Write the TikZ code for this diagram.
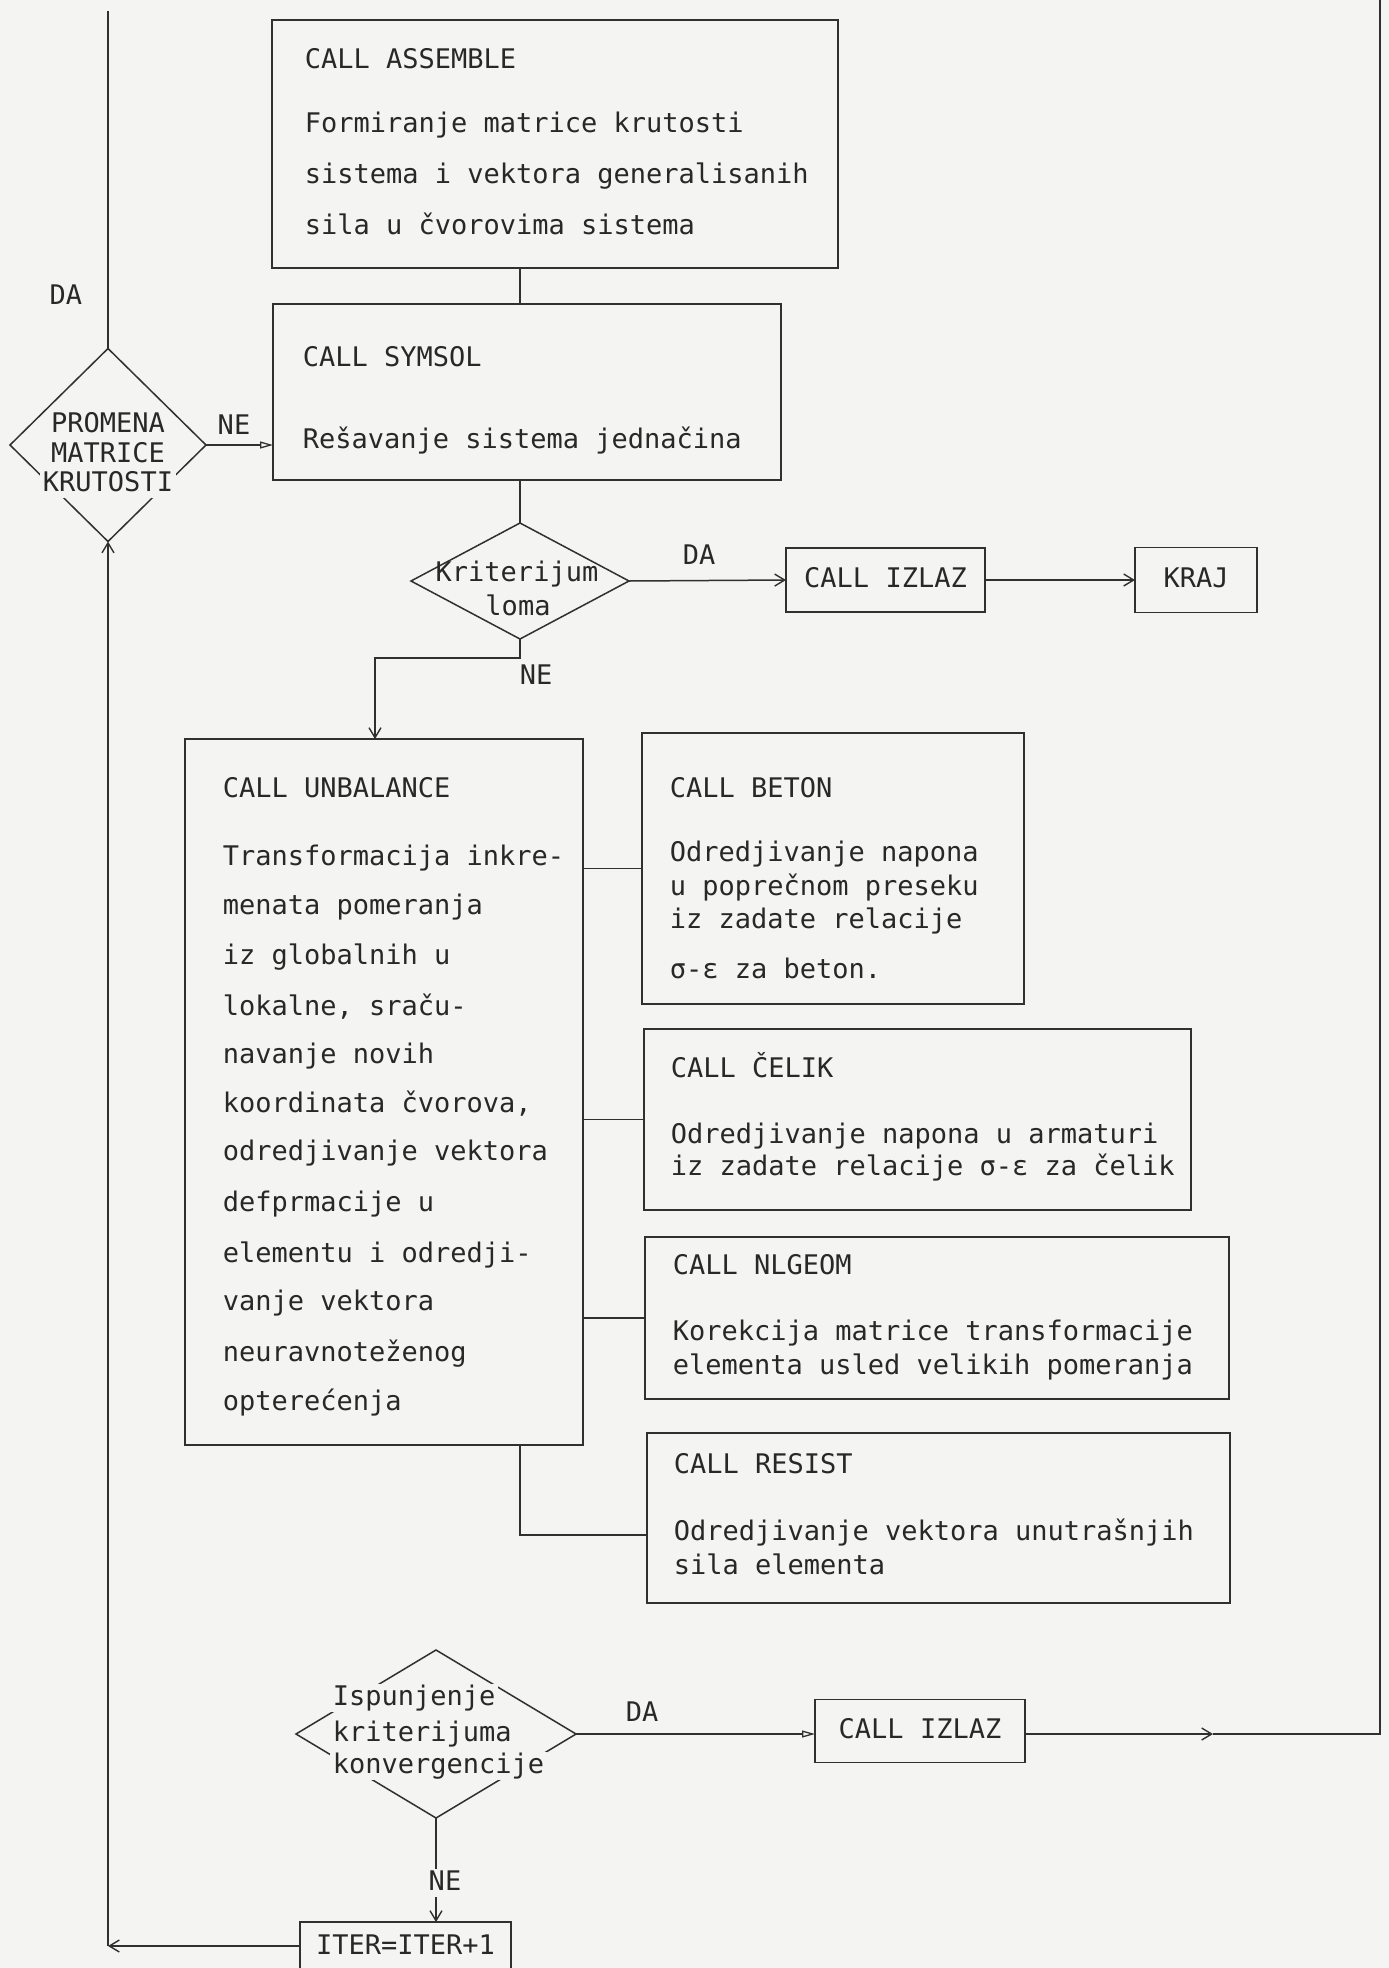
\documentclass[tikz,border=0pt]{standalone}
\usepackage{fontspec}
\newfontfamily\tw{DejaVu Sans Mono}
\usetikzlibrary{shapes.geometric,arrows.meta}
\definecolor{paper}{RGB}{244,244,243}
\definecolor{ink}{RGB}{48,48,48}
\definecolor{type}{RGB}{40,40,40}

\begin{document}
\begin{tikzpicture}[x=1pt,y=-1pt,color=ink,line width=1.5pt,
  box/.style={draw,rectangle,inner sep=0pt,outer sep=0pt,line width=1.6pt},
  dia/.style={draw,diamond,inner sep=0pt,outer sep=0pt,line width=1.5pt},
  txt/.style={anchor=west,inner sep=0pt,text=type,
    font={\tw\fontsize{27}{30}\selectfont},text height=20pt,text depth=6pt},
  ctxt/.style={txt,anchor=center},
  cut/.style={ctxt,fill=paper,inner xsep=3pt,inner ysep=1pt},
  lbl/.style={ctxt},
  barb/.style={-{Straight Barb[length=10pt,width=12pt,line width=1.4pt]}},
  hollow/.style={-{Triangle[open,length=13pt,width=7pt,line width=1.3pt]}}]

\clip (0,0) rectangle (1389,1968);
\fill[paper] (0,0) rectangle (1389,1968);

% ---- process boxes ----
\node[box,minimum width=566pt,minimum height=248pt] (assemble) at (555,144) {};
\node[box,minimum width=508pt,minimum height=176pt] (symsol) at (527,392) {};
\node[box,minimum width=199pt,minimum height=64pt] (izlazA) at (885.5,580) {};
\node[box,minimum width=122pt,minimum height=65pt] (kraj) at (1196,580) {};
\node[box,minimum width=398pt,minimum height=706pt] (unbalance) at (384,1092) {};
\node[box,minimum width=382pt,minimum height=271pt] (beton) at (833,868.5) {};
\node[box,minimum width=547pt,minimum height=181pt] (celik) at (917.5,1119.5) {};
\node[box,minimum width=584pt,minimum height=162pt] (nlgeom) at (937,1318) {};
\node[box,minimum width=583pt,minimum height=170pt] (resist) at (938.5,1518) {};
\node[box,minimum width=210pt,minimum height=63pt] (izlazB) at (920,1731) {};
\node[box,minimum width=211pt,minimum height=54pt] (iter) at (405.5,1949) {};

% ---- decisions ----
\node[dia,minimum width=196pt,minimum height=193pt] (promena) at (108,445) {};
\node[dia,minimum width=218pt,minimum height=116pt] (loma) at (520,581) {};
\node[dia,minimum width=280pt,minimum height=168pt] (isp) at (436,1734) {};

% ---- texts ----
\node[txt] (asT1) at (304,61) {CALL ASSEMBLE};
\node[txt] (asT2) at (304,125) {Formiranje matrice krutosti};
\node[txt] (asT3) at (304,176) {sistema i vektora generalisanih};
\node[txt] (asT4) at (304,227) {sila u čvorovima sistema};

\node[txt] (syT1) at (302,359) {CALL SYMSOL};
\node[txt] (syT2) at (302,441) {Rešavanje sistema jednačina};

\node[cut] (prT1) at (108,425) {PROMENA};
\node[cut] (prT2) at (108,455) {MATRICE};
\node[cut] (prT3) at (108,484) {KRUTOSTI};

\node[ctxt] (loT1) at (517,574) {Kriterijum};
\node[ctxt] (loT2) at (518,608) {loma};

\node[ctxt] (izAT) at (izlazA) {CALL IZLAZ};
\node[ctxt] (krT) at (kraj) {KRAJ};

\node[txt] (unT1) at (222,790) {CALL UNBALANCE};
\node[txt] (unT2) at (222,858) {Transformacija inkre-};
\node[txt] (unT3) at (222,907) {menata pomeranja};
\node[txt] (unT4) at (222,957) {iz globalnih u};
\node[txt] (unT5) at (222,1008) {lokalne, sraču-};
\node[txt] (unT6) at (222,1056) {navanje novih};
\node[txt] (unT7) at (222,1105) {koordinata čvorova,};
\node[txt] (unT8) at (222,1153) {odredjivanje vektora};
\node[txt] (unT9) at (222,1204) {defprmacije u};
\node[txt] (unT10) at (222,1255) {elementu i odredji-};
\node[txt] (unT11) at (222,1303) {vanje vektora};
\node[txt] (unT12) at (222,1354) {neuravnoteženog};
\node[txt] (unT13) at (222,1403) {opterećenja};

\node[txt] (beT1) at (669,790) {CALL BETON};
\node[txt] (beT2) at (669,854) {Odredjivanje napona};
\node[txt] (beT3) at (669,888) {u poprečnom preseku};
\node[txt] (beT4) at (669,921) {iz zadate relacije};
\node[txt] (beT5) at (669,971) {σ-ε za beton.};

\node[txt] (ceT1) at (670,1070) {CALL ČELIK};
\node[txt] (ceT2) at (670,1136) {Odredjivanje napona u armaturi};
\node[txt] (ceT3) at (670,1168) {iz zadate relacije σ-ε za čelik};

\node[txt] (nlT1) at (672,1267) {CALL NLGEOM};
\node[txt] (nlT2) at (672,1333) {Korekcija matrice transformacije};
\node[txt] (nlT3) at (672,1367) {elementa usled velikih pomeranja};

\node[txt] (reT1) at (673,1466) {CALL RESIST};
\node[txt] (reT2) at (673,1533) {Odredjivanje vektora unutrašnjih};
\node[txt] (reT3) at (673,1567) {sila elementa};

\node[cut,anchor=west] (isT1) at (329,1698) {Ispunjenje};
\node[cut,anchor=west] (isT2) at (329,1734) {kriterijuma};
\node[cut,anchor=west] (isT3) at (329,1766) {konvergencije};

\node[ctxt] (izBT) at (izlazB) {CALL IZLAZ};
\node[ctxt] (itT) at (405.5,1947) {ITER=ITER+1};

% ---- branch labels ----
\node[lbl] (daA) at (66,297) {DA};
\node[lbl] (neA) at (234,427) {NE};
\node[lbl] (daB) at (699,557) {DA};
\node[lbl] (neB) at (536,677) {NE};
\node[lbl] (daC) at (642,1714) {DA};

% ---- connectors ----
\coordinate (topL) at (108,11);
\coordinate (topR) at (1380,0);
\coordinate (cornerR) at (1380,1734);
\coordinate (midR) at (1213,1734);
\coordinate (cornerL) at (108,1946);

\draw (promena.north) -- (topL);
\draw[hollow] (promena.east) -- (promena.east -| symsol.west);
\draw (assemble.south -| loma.north) -- (symsol.north -| loma.north);
\draw (symsol.south -| loma.north) -- (loma.north);
\draw[barb] (loma.east) -- (izlazA.west);
\draw[barb] (izlazA.east) -- (kraj.west);
\draw[barb] (loma.south) -- ++(0,19) -| ([xshift=-9pt]unbalance.north);
\draw (unbalance.east |- beton.west) -- (beton.west);
\draw (unbalance.east |- celik.west) -- (celik.west);
\draw (unbalance.east |- nlgeom.west) -- (nlgeom.west);
\draw (unbalance.south -| loma.south) |- ([yshift=-17pt]resist.west);
\draw[hollow] (isp.east) -- (isp.east -| izlazB.west);
\draw[barb] (izlazB.east |- isp.east) -- (midR);
\draw (midR) -- (cornerR) -- (topR);
\draw[barb] (isp.south) -- (isp.south |- iter.north);
\draw[barb] (iter.west |- cornerL) -- (cornerL);
\draw[barb] (cornerL) -- (promena.south);

% label that interrupts the line below the convergence test
\node[cut] (neC) at (445,1883) {NE};
\end{tikzpicture}
\end{document}
